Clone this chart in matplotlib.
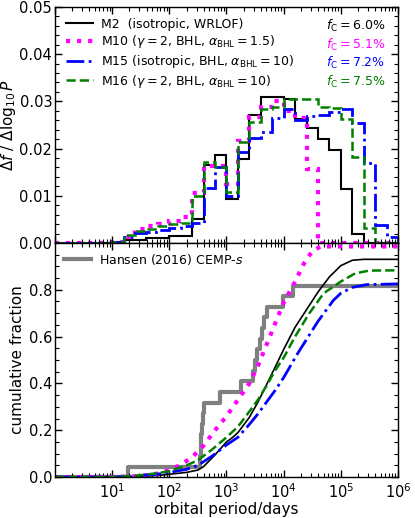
import matplotlib
matplotlib.use("Agg")
import matplotlib.pyplot as plt
import numpy as np
from matplotlib.ticker import AutoMinorLocator, FormatStrFormatter

# histogram: bins of 0.2 dex in log10(P/days), from 10^0 to 10^6
log_edges = np.linspace(0.0, 6.0, 31)

hist_m2 = [0, 0, 0, 0, 0, 0.0002, 0.0006, 0.0006, 0.0011, 0.0011,
           0.0015, 0.0015, 0.0050, 0.0166, 0.0187, 0.0093, 0.0178, 0.0271, 0.0310, 0.0310,
           0.0304, 0.0262, 0.0244, 0.0221, 0.0196, 0.0114, 0.0019, 0, 0, 0]
hist_m10 = [0, 0, 0, 0, 0, 0.0002, 0.0012, 0.0030, 0.0036, 0.0040,
            0.0047, 0.0054, 0.0106, 0.0164, 0.0162, 0.0125, 0.0216, 0.0267, 0.0289, 0.0301,
            0.0280, 0.0264, 0.0156, 0, 0, 0, 0, 0, 0, 0]
hist_m15 = [0, 0, 0, 0, 0, 0.0002, 0.0013, 0.0022, 0.0024, 0.0028,
            0.0031, 0.0035, 0.0043, 0.0117, 0.0160, 0.0100, 0.0192, 0.0222, 0.0236, 0.0265,
            0.0283, 0.0260, 0.0268, 0.0271, 0.0277, 0.0284, 0.0254, 0.0169, 0.0037, 0.0013]
hist_m16 = [0, 0, 0, 0, 0, 0.0002, 0.0017, 0.0026, 0.0030, 0.0035,
            0.0040, 0.0042, 0.0100, 0.0172, 0.0160, 0.0108, 0.0214, 0.0256, 0.0283, 0.0289,
            0.0305, 0.0305, 0.0304, 0.0288, 0.0287, 0.0263, 0.0182, 0.0031, 0, 0]

# cumulative distributions (log10 P, fraction)
cum_m2_logp = [0.0, 1.0, 1.4, 1.8, 2.0, 2.3, 2.5, 2.6, 2.8, 3.0, 3.1, 3.2, 3.4, 3.55,
               3.7, 3.87, 4.0, 4.2, 4.4, 4.6, 4.8, 5.0, 5.2, 5.4, 6.0]
cum_m2 = [0.0, 0.0, 0.002, 0.007, 0.012, 0.020, 0.030, 0.045, 0.095, 0.150, 0.168, 0.190,
          0.255, 0.320, 0.394, 0.479, 0.545, 0.640, 0.715, 0.790, 0.855, 0.903, 0.926, 0.930, 0.930]
cum_m10_logp = [0.0, 1.0, 1.5, 1.8, 2.0, 2.2, 2.4, 2.6, 2.8, 3.0, 3.2, 3.4, 3.55, 3.7,
                3.85, 4.0, 4.2, 4.35, 4.5, 4.65, 6.0]
cum_m10 = [0.0, 0.0, 0.005, 0.015, 0.030, 0.052, 0.085, 0.135, 0.200, 0.260, 0.330, 0.400,
           0.475, 0.565, 0.655, 0.745, 0.835, 0.910, 0.965, 0.985, 0.985]
cum_m15_logp = [0.0, 1.0, 1.4, 1.8, 2.0, 2.3, 2.5, 2.75, 3.0, 3.2, 3.4, 3.55, 3.7, 3.85,
                4.0, 4.25, 4.6, 4.87, 5.0, 5.2, 5.45, 6.0]
cum_m15 = [0.0, 0.0, 0.004, 0.013, 0.020, 0.033, 0.050, 0.090, 0.137, 0.170, 0.225, 0.270,
           0.320, 0.370, 0.425, 0.530, 0.665, 0.755, 0.785, 0.810, 0.822, 0.825]
cum_m16_logp = [0.0, 1.0, 1.4, 1.8, 2.0, 2.3, 2.5, 2.75, 3.0, 3.2, 3.4, 3.55, 3.7, 3.85,
                4.0, 4.2, 4.45, 4.7, 5.0, 5.25, 5.5, 6.0]
cum_m16 = [0.0, 0.0, 0.005, 0.017, 0.025, 0.050, 0.072, 0.118, 0.170, 0.215, 0.280, 0.330,
           0.390, 0.455, 0.510, 0.600, 0.700, 0.785, 0.835, 0.870, 0.882, 0.883]

# Hansen (2016) CEMP-s binaries: periods (log10 days) and cumulative fraction
hansen_logp = [1.27, 2.53, 2.55, 2.56, 2.58, 2.59, 2.61, 2.88, 3.26, 3.46, 3.50, 3.54,
               3.58, 3.62, 3.66, 3.71, 3.99, 4.16]
hansen_frac = [0.045, 0.091, 0.136, 0.182, 0.227, 0.273, 0.318, 0.364, 0.409, 0.455,
               0.500, 0.545, 0.591, 0.636, 0.682, 0.727, 0.773, 0.818]

labels = ['M2  (isotropic, WRLOF)',
          r'M10 ($\gamma=2$, BHL, $\alpha_{\rm BHL}=1.5$)',
          r'M15 (isotropic, BHL, $\alpha_{\rm BHL}=10$)',
          r'M16 ($\gamma=2$, BHL, $\alpha_{\rm BHL}=10$)']
fc_labels = ['6.0', '5.1', '7.2', '7.5']
colors = ['k', 'magenta', 'b', 'g']
styles = ['-', ':', '-.', '--']
widths = [1.5, 3.0, 2.0, 1.8]

plt.rcParams['font.family'] = 'DejaVu Sans'
plt.rcParams['mathtext.fontset'] = 'dejavusans'

fig = plt.figure(figsize=(4.15, 5.18), dpi=100)
ax1 = fig.add_axes([0.1325, 0.531, 0.8265, 0.4555])
ax2 = fig.add_axes([0.1325, 0.079, 0.8265, 0.452])

edges = 10 ** log_edges
for h, c, s, w, lab in zip([hist_m2, hist_m10, hist_m15, hist_m16], colors, styles, widths, labels):
    ax1.stairs(h, edges, color=c, linestyle=s, linewidth=w, label=lab)

leg = ax1.legend(loc='upper left', frameon=False, fontsize=9, handlelength=2.2,
                 handletextpad=0.6, labelspacing=0.22, borderaxespad=0.45)
for i, (fc, c) in enumerate(zip(fc_labels, colors)):
    ax1.text(0.962, 0.918 - i * 0.0785, r'$f_{\rm C}=%s\%%$' % fc, color=c, fontsize=9,
             ha='right', va='center', transform=ax1.transAxes)

ax2.step(10 ** np.array([0.0] + hansen_logp + [6.0]), [0.0] + hansen_frac + [hansen_frac[-1]],
         where='post', color='gray', linewidth=3.0, label='Hansen (2016) CEMP-$s$', zorder=1)
cum = [(cum_m2_logp, cum_m2), (cum_m10_logp, cum_m10), (cum_m15_logp, cum_m15), (cum_m16_logp, cum_m16)]
cwidths = [1.2, 3.0, 2.0, 1.8]
for (lp, cv), c, s, w in zip(cum, colors, styles, cwidths):
    ax2.plot(10 ** np.array(lp), cv, color=c, linestyle=s, linewidth=w, zorder=2)
ax2.legend(loc='upper left', frameon=False, fontsize=9, handlelength=2.2,
           handletextpad=0.6, borderaxespad=0.3)

for ax in (ax1, ax2):
    ax.set_xscale('log')
    ax.set_xlim(1, 1e6)
    ax.tick_params(which='both', direction='in', top=True, right=True, labelsize=10.5)
    ax.tick_params(which='major', length=5, width=1)
    ax.tick_params(which='minor', length=3, width=0.8)
    ax.tick_params(axis='y', pad=2)
    ax.yaxis.set_minor_locator(AutoMinorLocator())
    for sp in ax.spines.values():
        sp.set_linewidth(1.0)

ax1.set_ylim(0, 0.05)
ax1.set_yticks([0, 0.01, 0.02, 0.03, 0.04, 0.05])
ax1.yaxis.set_major_formatter(FormatStrFormatter('%.2f'))
ax1.tick_params(labelbottom=False)
ax1.set_ylabel(r'$\Delta f$ / $\Delta\log_{10}P$', fontsize=11, labelpad=1)

ax2.set_ylim(0, 1.0)
ax2.set_yticks([0, 0.2, 0.4, 0.6, 0.8])
ax2.set_xticks([1e1, 1e2, 1e3, 1e4, 1e5, 1e6])
ax2.set_ylabel('cumulative fraction', fontsize=11, labelpad=3)
ax2.set_xlabel('orbital period/days', fontsize=11, labelpad=1)

fig.savefig('out.png', dpi=100)
